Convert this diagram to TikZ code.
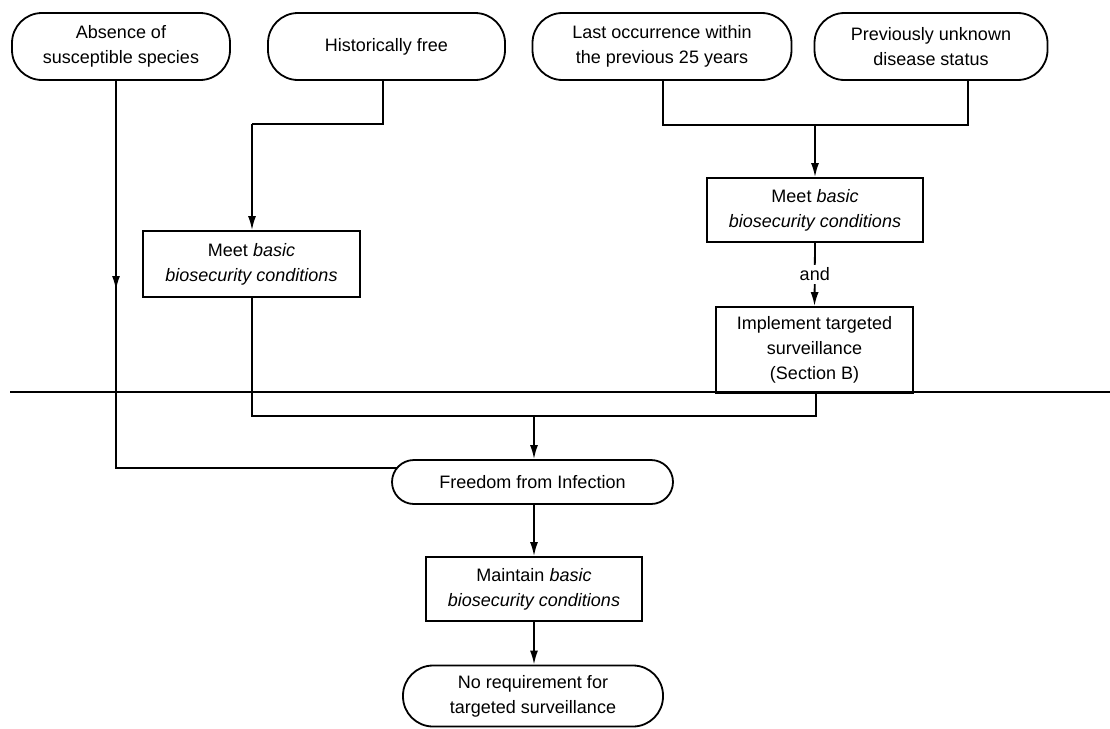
\documentclass[tikz,border=0pt]{standalone}
\usepackage{fontspec}
\setmainfont{Liberation Sans}
\usetikzlibrary{arrows.meta,calc}
\begin{document}
\begin{tikzpicture}[x=1pt,y=-1pt,
  every node/.style={font=\fontsize{18}{25}\selectfont, align=center, inner sep=0pt},
  ln/.style={line width=1.8pt},
  arr/.style={ln,-{Latex[length=14pt,width=8pt]}},
  pill/.style={draw, line width=1.8pt, rounded corners=#1},
  pill/.default=30pt,
  box/.style={draw, line width=1.8pt}
]
\useasboundingbox (0,0) rectangle (1110,728);

% top pills
\node[pill, minimum width=218pt, minimum height=67pt] (A) at (121,46.5) {Absence of\\susceptible species};
\node[pill, minimum width=237pt, minimum height=67pt] (B) at (386.5,46.5) {Historically free};
\node[pill, minimum width=259pt, minimum height=67pt] (C) at (662,46.5) {Last occurrence within\\the previous 25 years};
\node[pill, minimum width=233pt, minimum height=67pt] (D) at (931,46.5) {Previously unknown\\disease status};

% boxes
\node[box, minimum width=217pt, minimum height=66pt] (L1) at (251.5,264) {Meet \textit{basic}\\\textit{biosecurity conditions}};
\node[box, minimum width=216pt, minimum height=64pt] (R1) at (815,210) {Meet \textit{basic}\\\textit{biosecurity conditions}};
\node[box, minimum width=197pt, minimum height=86pt] (R2) at (814.5,350) {Implement targeted\\surveillance\\(Section B)};

\node[pill=22pt, minimum width=281pt, minimum height=44pt] (F) at (532.5,482) {Freedom from Infection};
\node[box, minimum width=216pt, minimum height=64pt] (M) at (534,589) {Maintain \textit{basic}\\\textit{biosecurity conditions}};
\node[pill=30pt, minimum width=260pt, minimum height=61pt] (N) at (533,696) {No requirement for\\targeted surveillance};

% coordinates
\coordinate (a0) at (116,80);
\coordinate (am) at (116,290);
\coordinate (a1) at (116,468);
\coordinate (fw) at (397,468);
\coordinate (b0) at (383,80);
\coordinate (b1) at (383,124);
\coordinate (b2) at (252,124);
\coordinate (c0) at (663,80);
\coordinate (c1) at (663,125);
\coordinate (d0) at (968,80);
\coordinate (d1) at (968,125);
\coordinate (rm) at (815,125);
\coordinate (l1) at (252,416);
\coordinate (r2) at (816,416);
\coordinate (fm) at (534,416);
\coordinate (h0) at (10,392);
\coordinate (h1) at (1110,392);

% A path
\draw[arr] (a0) -- (am);
\draw[ln] ($(am)+(0,-6)$) -- (a1) -- (fw);

% B path
\draw[ln] (b0) -- (b1) -- (b2);
\draw[arr] (b2) -- (L1.north -| b2);

% C & D
\draw[ln] (c0) -- (c1) -- (d1) -- (d0);
\draw[arr] (rm) -- (R1.north);

% and
\draw[arr] (R1.south) -- node[fill=white, inner ysep=3pt, inner xsep=1pt] {and} (R2.north);

% long horizontal line
\draw[ln] (h0) -- (h1);

% merge
\draw[ln] (L1.south -| l1) -- (l1) -- (r2) -- (R2.south -| r2);
\draw[arr] (fm) -- (F.north -| fm);

\draw[arr] (F.south -| fm) -- (M.north -| fm);
\draw[arr] (M.south -| fm) -- (N.north -| fm);
\end{tikzpicture}
\end{document}
